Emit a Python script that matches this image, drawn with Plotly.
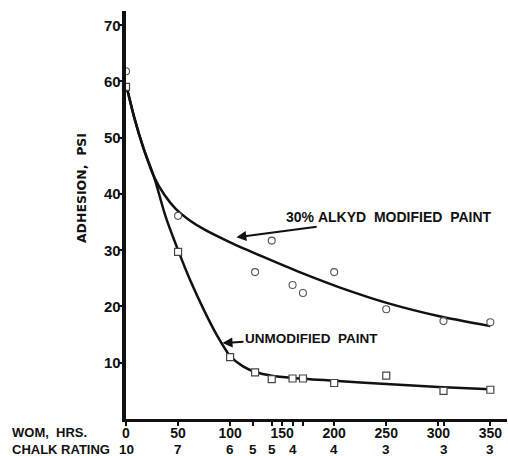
import plotly.graph_objects as go

# Measured adhesion (psi) against weather-o-meter exposure (hours)
wom_alkyd = [0, 50, 124, 140, 160, 170, 200, 250, 305, 350]
adh_alkyd = [61.8, 36.1, 26.1, 31.7, 23.8, 22.4, 26.1, 19.5, 17.4, 17.2]

wom_unmod = [0, 50, 100, 124, 140, 160, 170, 200, 250, 305, 350]
adh_unmod = [59.0, 29.7, 11.0, 8.3, 7.1, 7.2, 7.2, 6.4, 7.7, 5.0, 5.2]

# Hand-drawn trend curves through the data
fit_alkyd_x = [0, 8, 17, 27, 37, 48, 62, 76, 100, 132, 168, 205, 253, 300, 350]
fit_alkyd_y = [59.5, 53.5, 48, 43, 39.8, 37.3, 35.2, 33.6, 31.4, 28.8, 26.0,
               23.4, 20.5, 18.3, 16.5]
fit_unmod_x = [0, 8, 17, 27, 38, 50, 62, 75, 87, 100, 112, 125, 140, 160,
               200, 250, 300, 350]
fit_unmod_y = [59.5, 53.5, 48, 43, 36, 30, 24.5, 19.3, 15.0, 11.2, 9.4, 8.3,
               7.7, 7.3, 6.8, 6.2, 5.7, 5.3]

# Axis ticks and the chalk rating read at each exposure
x_tickvals = [0, 50, 100, 122, 140, 150, 160, 170, 200, 250, 300, 305, 350]
x_ticktext = ["0", "50", "100", "", "", "150", "", "", "200", "250", "300", "", "350"]
y_tickvals = [10, 20, 30, 40, 50, 60, 70]
chalk_x = [0, 50, 100, 122, 140, 160, 200, 250, 305, 350]
chalk_rating = ["10", "7", "6", "5", "5", "4", "4", "3", "3", "3"]

BOLD = "Liberation Sans"
INK = "#111111"
NB = "\u00a0"

fig = go.Figure()

for fx, fy in ((fit_alkyd_x, fit_alkyd_y), (fit_unmod_x, fit_unmod_y)):
    fig.add_trace(go.Scatter(
        x=fx, y=fy, mode="lines",
        line=dict(color=INK, width=2.5, shape="spline", smoothing=0.7),
        hoverinfo="skip", showlegend=False))

fig.add_trace(go.Scatter(
    x=wom_alkyd, y=adh_alkyd, mode="markers", cliponaxis=False,
    marker=dict(symbol="circle", size=7, color="white",
                line=dict(color="#555555", width=1.1)),
    name="30% alkyd modified", showlegend=False))
fig.add_trace(go.Scatter(
    x=wom_unmod, y=adh_unmod, mode="markers", cliponaxis=False,
    marker=dict(symbol="square", size=7, color="white",
                line=dict(color="#444444", width=1.2)),
    name="unmodified", showlegend=False))

annotations = []

# Curve labels with pointer arrows
annotations.append(dict(
    x=106, y=32.3, xref="x", yref="y",
    text=f"30%{NB}ALKYD{NB}{NB}MODIFIED{NB}{NB}PAINT",
    showarrow=True, ax=153, ay=-20, arrowhead=2, arrowsize=1,
    arrowwidth=2, arrowcolor=INK, standoff=0,
    font=dict(family=BOLD, size=14, color=INK, weight="bold")))
annotations.append(dict(
    x=92.7, y=13.5, xref="x", yref="y",
    text=f"UNMODIFIED{NB}{NB}PAINT",
    showarrow=True, ax=89, ay=-5, arrowhead=2, arrowsize=1,
    arrowwidth=2, arrowcolor=INK, standoff=0,
    font=dict(family=BOLD, size=13.5, color=INK, weight="bold")))

# Y tick labels, set just left of the outward ticks
for yv in y_tickvals:
    annotations.append(dict(
        x=0, y=yv, xref="paper", yref="y", text=str(yv),
        showarrow=False, xanchor="right", yanchor="middle", xshift=-3,
        font=dict(family=BOLD, size=15, color=INK, weight="bold")))

# Y axis title
annotations.append(dict(
    x=-0.118, y=0.566, xref="paper", yref="paper",
    text=f"ADHESION,{NB}{NB}PSI", textangle=-90, showarrow=False,
    xanchor="center", yanchor="middle",
    font=dict(family="DejaVu Sans", size=12.5, color=INK, weight="bold")))

# Row captions below the axis
annotations.append(dict(
    x=-0.305, y=-0.032, xref="paper", yref="paper",
    text=f"WOM,{NB}{NB}HRS.", showarrow=False,
    xanchor="left", yanchor="middle",
    font=dict(family=BOLD, size=13, color=INK, weight="bold")))
annotations.append(dict(
    x=-0.305, y=-0.074, xref="paper", yref="paper",
    text="CHALK RATING", showarrow=False,
    xanchor="left", yanchor="middle",
    font=dict(family=BOLD, size=13, color=INK, weight="bold")))

for cx, cr in zip(chalk_x, chalk_rating):
    annotations.append(dict(
        x=cx, y=-0.074, xref="x", yref="paper", text=cr,
        showarrow=False, xanchor="center", yanchor="middle",
        font=dict(family=BOLD, size=13.5, color=INK, weight="bold")))

fig.update_layout(
    width=508, height=456,
    margin=dict(l=126, r=1, t=11, b=37),
    paper_bgcolor="white", plot_bgcolor="white",
    annotations=annotations,
    xaxis=dict(
        range=[0, 366], showgrid=False, zeroline=False,
        showline=True, linecolor=INK, linewidth=3,
        tickmode="array", tickvals=x_tickvals, ticktext=x_ticktext,
        ticks="outside", ticklen=4, tickwidth=1.5, tickcolor=INK,
        ticklabelstandoff=-5,
        tickfont=dict(family=BOLD, size=14, color=INK, weight="bold"),
    ),
    yaxis=dict(
        range=[0, 72.5], showgrid=False, zeroline=False,
        showline=True, linecolor=INK, linewidth=4,
        tickmode="array", tickvals=y_tickvals, showticklabels=False,
        ticks="outside", ticklen=4, tickwidth=2, tickcolor=INK,
    ),
)

fig.write_html("out.html")
